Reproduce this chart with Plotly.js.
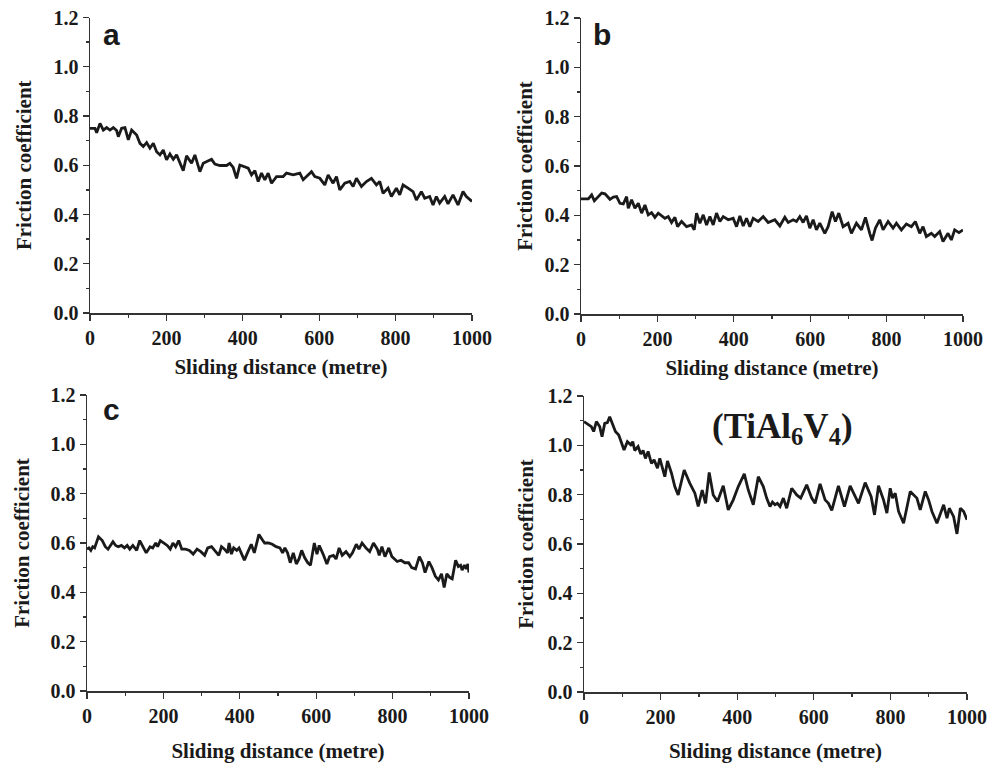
<!DOCTYPE html>
<html>
<head>
<meta charset="utf-8">
<script src="https://cdn.plot.ly/plotly-3.0.1.min.js"></script>
<style>
  html, body { margin: 0; padding: 0; background: #ffffff; }
  #chart { width: 989px; height: 763px; }
</style>
</head>
<body>
<div id="chart"></div>
<script>
// ---------- Data ----------
const distA = [0,13.1,17.4,26.2,34.9,43.6,52.3,61.0,69.7,74.1,82.8,91.5,100.3,109.0,122.1,130.8,139.5,148.2,156.9,165.7,174.4,183.1,191.8,200.5,209.2,218.0,226.7,235.4,244.1,252.8,265.9,274.6,287.7,296.4,305.1,318.2,326.9,340.0,357.5,366.2,374.9,383.6,392.3,401.0,414.1,422.8,431.6,440.3,449.0,457.7,466.4,475.2,488.2,505.7,514.4,531.8,549.3,558.0,571.1,579.8,588.5,601.6,614.6,623.4,636.4,645.2,653.9,667.0,680.0,688.8,697.5,710.5,723.6,736.7,749.8,758.5,767.2,780.3,789.0,802.1,810.8,819.5,832.6,845.7,854.4,867.5,876.2,889.3,898.0,906.7,915.4,928.5,937.2,950.3,963.4,976.5,985.2,993.9,1000];
const muA = [0.750,0.750,0.732,0.770,0.743,0.753,0.743,0.753,0.741,0.716,0.750,0.753,0.703,0.743,0.723,0.689,0.676,0.692,0.669,0.689,0.655,0.642,0.662,0.622,0.646,0.624,0.642,0.608,0.578,0.638,0.608,0.642,0.574,0.608,0.614,0.624,0.605,0.599,0.599,0.608,0.591,0.547,0.601,0.595,0.588,0.561,0.578,0.534,0.568,0.541,0.568,0.527,0.554,0.554,0.568,0.561,0.568,0.541,0.561,0.574,0.554,0.547,0.520,0.561,0.527,0.554,0.500,0.527,0.534,0.514,0.547,0.514,0.534,0.547,0.520,0.534,0.486,0.507,0.473,0.507,0.480,0.520,0.507,0.493,0.459,0.493,0.466,0.473,0.439,0.473,0.446,0.473,0.443,0.480,0.439,0.493,0.473,0.459,0.453];

const distB = [0,19.2,27.9,34.9,45.3,54.1,62.8,75.8,84.6,93.3,102.0,110.7,119.4,123.8,132.5,141.2,150.0,158.7,167.4,176.1,184.8,193.5,202.3,211.0,219.7,228.4,237.1,245.9,252.8,263.3,276.4,289.5,296.4,302.5,311.2,320.0,328.7,337.4,346.1,354.8,363.6,372.3,385.4,398.4,407.2,415.9,424.6,433.3,442.0,450.7,463.8,476.9,490.0,507.4,520.5,533.6,542.3,555.4,564.1,572.8,581.5,590.2,599.0,607.7,616.4,625.1,638.2,646.9,657.4,666.1,674.8,686.1,699.2,707.9,721.0,734.1,744.6,755.9,762.0,770.7,782.0,790.8,803.8,816.9,825.6,838.7,851.8,864.9,875.3,886.7,895.4,904.1,917.2,925.9,939.0,947.7,960.8,969.5,978.2,989.5,1000];
const muB = [0.467,0.467,0.483,0.459,0.476,0.490,0.487,0.465,0.474,0.476,0.449,0.446,0.476,0.429,0.463,0.429,0.449,0.409,0.442,0.402,0.411,0.392,0.409,0.398,0.388,0.395,0.371,0.392,0.354,0.375,0.354,0.361,0.341,0.409,0.368,0.402,0.361,0.395,0.361,0.409,0.375,0.395,0.382,0.388,0.354,0.398,0.357,0.388,0.354,0.388,0.375,0.395,0.371,0.382,0.357,0.392,0.371,0.382,0.375,0.395,0.371,0.398,0.348,0.382,0.341,0.368,0.327,0.354,0.415,0.375,0.409,0.354,0.368,0.327,0.368,0.341,0.392,0.327,0.298,0.348,0.382,0.341,0.375,0.348,0.368,0.341,0.365,0.354,0.375,0.327,0.354,0.314,0.327,0.314,0.334,0.294,0.327,0.300,0.341,0.330,0.341];

const distC = [0,5,10,15,20,25,30,40,48,55,62,68,75,82,90,98,105,112,120,130,138,148,155,165,172,180,185,192,200,210,218,225,232,240,248,258,268,278,288,298,308,316,326,336,345,352,360,368,372,378,384,392,398,405,412,420,430,438,445,450,458,465,475,485,495,505,512,518,525,532,540,548,555,562,570,578,585,590,595,602,608,618,628,635,645,652,660,668,678,688,695,705,712,720,730,740,750,760,765,772,780,790,798,805,812,822,832,842,850,860,870,878,885,895,903,912,920,928,935,942,950,956,965,972,978,982,988,993,997,1000];
const muC = [0.575,0.580,0.570,0.585,0.580,0.605,0.625,0.610,0.585,0.575,0.590,0.605,0.590,0.585,0.590,0.580,0.590,0.575,0.590,0.570,0.610,0.580,0.560,0.585,0.580,0.600,0.585,0.610,0.600,0.590,0.575,0.600,0.585,0.610,0.575,0.575,0.570,0.555,0.575,0.565,0.550,0.580,0.585,0.565,0.550,0.585,0.575,0.560,0.600,0.555,0.580,0.570,0.580,0.555,0.530,0.560,0.595,0.560,0.600,0.635,0.615,0.600,0.600,0.595,0.585,0.580,0.560,0.580,0.560,0.520,0.560,0.515,0.535,0.570,0.540,0.520,0.510,0.560,0.600,0.555,0.590,0.555,0.515,0.545,0.550,0.535,0.580,0.550,0.565,0.545,0.560,0.595,0.575,0.600,0.580,0.565,0.600,0.575,0.550,0.585,0.545,0.580,0.545,0.535,0.525,0.530,0.520,0.520,0.500,0.495,0.545,0.520,0.480,0.525,0.500,0.465,0.450,0.475,0.420,0.475,0.460,0.455,0.530,0.505,0.510,0.490,0.510,0.495,0.515,0.480];

const distD = [0,10.5,19.2,25.3,32.3,41.0,47.1,54.1,61.0,67.1,75.8,82.0,90.7,97.6,104.6,113.3,122.1,127.3,132.5,141.2,148.2,154.3,160.4,167.4,176.1,183.1,191.8,197.9,206.6,211.0,218.0,228.4,237.1,245.9,261.6,276.4,289.5,298.2,308.6,317.4,326.9,337.4,348.7,363.6,376.6,389.7,402.8,418.5,428.9,442.0,455.1,468.2,476.9,485.6,492.0,498.7,505.0,511.8,520.5,529.2,542.3,555.4,565.8,581.5,594.6,603.3,616.4,629.5,638.2,646.9,664.3,680.0,694.9,707.9,716.7,734.1,749.8,758.5,769.0,782.0,790.8,799.5,805.6,812.6,821.3,834.4,851.8,869.2,877.9,891.0,899.7,908.5,921.5,939.0,947.7,953.8,965.1,973.8,982.6,991.3,1000];
const muD = [1.096,1.083,1.076,1.056,1.096,1.076,1.035,1.089,1.092,1.116,1.076,1.056,1.042,1.015,0.981,1.015,1.002,1.015,0.979,0.995,0.965,0.979,0.947,0.975,0.927,0.941,0.907,0.947,0.900,0.873,0.937,0.887,0.833,0.799,0.900,0.846,0.806,0.752,0.819,0.765,0.890,0.799,0.772,0.836,0.738,0.779,0.833,0.884,0.819,0.759,0.873,0.833,0.786,0.752,0.770,0.759,0.765,0.752,0.786,0.745,0.826,0.799,0.786,0.840,0.786,0.765,0.844,0.779,0.765,0.736,0.836,0.752,0.836,0.792,0.765,0.849,0.792,0.718,0.836,0.779,0.725,0.826,0.786,0.806,0.732,0.684,0.813,0.786,0.738,0.813,0.779,0.732,0.684,0.759,0.705,0.745,0.711,0.641,0.745,0.732,0.698];

const panelLabels = ['a', 'b', 'c'];
const alloyLabel = '(TiAl<sub>6</sub>V<sub>4</sub>)';
const xTitle = 'Sliding distance (metre)';
const yTitle = 'Friction coefficient';

// ---------- Styling ----------
const W = 989, H = 763;
const serif = 'Liberation Serif, Times New Roman, serif';
const sans = 'Liberation Sans, Arial, sans-serif';
const ink = '#1a1a1a';
const axisInk = '#333333';

function px2x(p) { return p / W; }
function px2y(p) { return 1 - p / H; }

// plot areas in pixels [left, right, top, bottom]
const boxes = [
  [90, 472, 17.5, 313],
  [581, 963, 18, 314],
  [87, 469, 395, 691],
  [584, 967, 396, 692]
];
const yStandoff = [16, 6, 15, 8];
const xStandoff = [12, 12, 20, 20];

function xAxis(i) {
  const b = boxes[i];
  return {
    domain: [px2x(b[0]), px2x(b[1])],
    anchor: i === 0 ? 'y' : 'y' + (i + 1),
    range: [0, 1000],
    tick0: 0, dtick: 200,
    ticks: 'outside', ticklen: 6, tickwidth: 1.3, tickcolor: axisInk,
    minor: { dtick: 100, ticks: 'outside', ticklen: 3, tickwidth: 1.3, tickcolor: axisInk },
    showline: true, linecolor: axisInk, linewidth: 1.5,
    showgrid: false, zeroline: false,
    tickfont: { family: serif, size: 20, color: ink, weight: 'bold' },
    title: { text: xTitle, font: { family: serif, size: 21, color: ink, weight: 'bold' }, standoff: xStandoff[i] },
    fixedrange: true
  };
}
function yAxis(i) {
  const b = boxes[i];
  return {
    domain: [px2y(b[3]), px2y(b[2])],
    anchor: i === 0 ? 'x' : 'x' + (i + 1),
    range: [0, 1.2],
    tick0: 0, dtick: 0.2, tickformat: '.1f',
    ticks: 'outside', ticklen: 6, tickwidth: 1.3, tickcolor: axisInk,
    minor: { dtick: 0.1, ticks: 'outside', ticklen: 3, tickwidth: 1.3, tickcolor: axisInk },
    showline: true, linecolor: axisInk, linewidth: 1.5,
    showgrid: false, zeroline: false,
    tickfont: { family: serif, size: 20, color: ink, weight: 'bold' },
    title: { text: yTitle, font: { family: serif, size: 21, color: ink, weight: 'bold' }, standoff: yStandoff[i] },
    fixedrange: true
  };
}

const series = [[distA, muA], [distB, muB], [distC, muC], [distD, muD]];
const traces = series.map((s, i) => ({
  type: 'scatter', mode: 'lines',
  x: s[0], y: s[1],
  xaxis: i === 0 ? 'x' : 'x' + (i + 1),
  yaxis: i === 0 ? 'y' : 'y' + (i + 1),
  line: { color: ink, width: 2.8 },
  showlegend: false, hoverinfo: 'skip'
}));

const layout = {
  width: W, height: H,
  margin: { l: 0, r: 0, t: 0, b: 0, pad: 0 },
  paper_bgcolor: '#ffffff', plot_bgcolor: '#ffffff',
  showlegend: false,
  annotations: [
    { text: panelLabels[0], xref: 'paper', yref: 'paper', x: px2x(111), y: px2y(35), xanchor: 'center', yanchor: 'middle', showarrow: false, font: { family: sans, size: 30, color: ink, weight: 'bold' } },
    { text: panelLabels[1], xref: 'paper', yref: 'paper', x: px2x(602), y: px2y(35), xanchor: 'center', yanchor: 'middle', showarrow: false, font: { family: sans, size: 30, color: ink, weight: 'bold' } },
    { text: panelLabels[2], xref: 'paper', yref: 'paper', x: px2x(111), y: px2y(409), xanchor: 'center', yanchor: 'middle', showarrow: false, font: { family: sans, size: 30, color: ink, weight: 'bold' } },
    { text: alloyLabel, xref: 'paper', yref: 'paper', x: px2x(782), y: px2y(428), xanchor: 'center', yanchor: 'middle', showarrow: false, font: { family: serif, size: 35, color: ink, weight: 'bold' } }
  ]
};
for (let i = 0; i < 4; i++) {
  layout[i === 0 ? 'xaxis' : 'xaxis' + (i + 1)] = xAxis(i);
  layout[i === 0 ? 'yaxis' : 'yaxis' + (i + 1)] = yAxis(i);
}

Plotly.newPlot('chart', traces, layout, { staticPlot: true, displayModeBar: false });
</script>
</body>
</html>
